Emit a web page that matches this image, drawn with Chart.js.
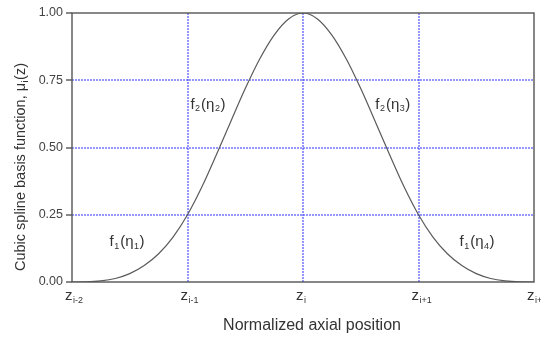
<!DOCTYPE html>
<html>
<head>
<meta charset="utf-8">
<script src="https://cdn.jsdelivr.net/npm/chart.js@4/dist/chart.umd.min.js"></script>
<style>
  html, body { margin: 0; padding: 0; background: #fff; }
  #wrap { width: 541px; height: 338px; }
</style>
</head>
<body>
<div id="wrap"><canvas id="splineChart"></canvas></div>
<script>
// positions along the axis, knot spacing = 1
const positions = [-2, -1.875, -1.75, -1.625, -1.5, -1.375, -1.25, -1.125, -1,
  -0.875, -0.75, -0.625, -0.5, -0.375, -0.25, -0.125, 0,
  0.125, 0.25, 0.375, 0.5, 0.625, 0.75, 0.875, 1,
  1.125, 1.25, 1.375, 1.5, 1.625, 1.75, 1.875, 2];
const basisValues = [0, 0.0005, 0.004, 0.013, 0.031, 0.061, 0.105, 0.167, 0.25,
  0.354, 0.473, 0.597, 0.719, 0.829, 0.918, 0.978, 1,
  0.978, 0.918, 0.829, 0.719, 0.597, 0.473, 0.354, 0.25,
  0.167, 0.105, 0.061, 0.031, 0.013, 0.004, 0.0005, 0];

// knot tick labels: base + subscript
const knotValues = [-2, -1, 0, 1, 2];
const knotSubs = ["i-2", "i-1", "i", "i+1", "i+2"];

// piece labels f_a(eta_b) placed in data units
const pieceNames = [["1", "1"], ["2", "2"], ["2", "3"], ["1", "4"]];
const pieceX = [-1.51, -0.81, 0.79, 1.52];
const pieceY = [0.15, 0.66, 0.66, 0.15];

const yTicks = [0, 0.25, 0.5, 0.75, 1];

const textColor = "#333";
const fontFam = "'Liberation Sans', Arial, sans-serif";

// draws base text followed by a lowered smaller subscript, returns x after
function subText(ctx, base, sub, x, y, size) {
  ctx.font = size + "px " + fontFam;
  ctx.fillText(base, x, y);
  let w = ctx.measureText(base).width;
  ctx.font = Math.round(size * 0.6) + "px " + fontFam;
  ctx.fillText(sub, x + w + 0.5, y + size * 0.3);
  return x + w + 0.5 + ctx.measureText(sub).width;
}

const textPlugin = {
  id: "spline_text",
  afterDraw: (chart) => {
    const { ctx, chartArea } = chart;
    const xs = chart.scales.x;
    const ys = chart.scales.y;
    ctx.save();
    // frame round the plot
    ctx.strokeStyle = "#555";
    ctx.lineWidth = 1.4;
    ctx.strokeRect(chartArea.left, chartArea.top, chartArea.right - chartArea.left, chartArea.bottom - chartArea.top);

    ctx.fillStyle = textColor;
    ctx.textBaseline = "middle";
    ctx.textAlign = "left";

    // x knot labels
    knotValues.forEach((v, i) => {
      const px = xs.getPixelForValue(v);
      subText(ctx, "z", knotSubs[i], px - 7, chartArea.bottom + 14, 15);
    });

    // piece labels
    pieceNames.forEach((n, i) => {
      const px = xs.getPixelForValue(pieceX[i]);
      const py = ys.getPixelForValue(pieceY[i]);
      let x = px - 19;
      x = subText(ctx, "f", n[0], x, py, 15);
      ctx.font = "15px " + fontFam;
      ctx.fillText("(", x + 1, py);
      x += 1 + ctx.measureText("(").width;
      x = subText(ctx, "\u03b7", n[1], x, py, 15);
      ctx.font = "15px " + fontFam;
      ctx.fillText(")", x + 0.5, py);
    });

    // x title
    ctx.font = "16px " + fontFam;
    ctx.textAlign = "center";
    ctx.fillText("Normalized axial position", 312, 326);

    // y title, rotated
    ctx.translate(21, 167);
    ctx.rotate(-Math.PI / 2);
    ctx.textAlign = "left";
    const t1 = "Cubic spline basis function, \u03bc";
    ctx.font = "14.5px " + fontFam;
    const w1 = ctx.measureText(t1).width;
    ctx.font = "9px " + fontFam;
    const ws = ctx.measureText("i").width;
    ctx.font = "14.5px " + fontFam;
    const w2 = ctx.measureText("(z)").width;
    let sx = -(w1 + ws + 1 + w2) / 2;
    ctx.fillText(t1, sx, 0);
    ctx.font = "9px " + fontFam;
    ctx.fillText("i", sx + w1 + 0.5, 5);
    ctx.font = "14.5px " + fontFam;
    ctx.fillText("(z)", sx + w1 + ws + 1, 0);
    ctx.restore();
  },
};

// inner grid lines only, the frame covers the edges
const gridColor = (ctx) => {
  const s = ctx.scale;
  const v = ctx.tick ? ctx.tick.value : s.min;
  return v === s.min || v === s.max ? "rgba(0,0,0,0)" : "rgba(80,80,255,0.6)";
};

const config = {
  type: "line",
  data: {
    datasets: [
      {
        label: "basis",
        data: positions.map((p, i) => ({ x: p, y: basisValues[i] })),
        borderColor: "#5a5a5a",
        borderWidth: 1.2,
        pointRadius: 0,
        cubicInterpolationMode: "monotone",
        fill: false,
      },
    ],
  },
  plugins: [textPlugin],
  options: {
    responsive: false,
    animation: false,
    layout: { padding: { left: 0, right: 7, top: 13, bottom: 0 } },
    plugins: {
      legend: { display: false },
      tooltip: { enabled: false },
    },
    scales: {
      x: {
        type: "linear",
        min: -2,
        max: 2,
        afterFit: (s) => { s.height = 56; },
        afterBuildTicks: (s) => { s.ticks = knotValues.map((v) => ({ value: v })); },
        ticks: { display: false },
        grid: { color: gridColor, lineWidth: 2, drawTicks: false },
        border: { display: false, dash: [2, 1] },
      },
      y: {
        min: 0,
        max: 1,
        afterFit: (s) => { s.width = 72; },
        afterBuildTicks: (s) => { s.ticks = yTicks.map((v) => ({ value: v })); },
        ticks: {
          color: "#444",
          font: { size: 12.5, family: fontFam },
          padding: 3,
          callback: (v) => v.toFixed(2),
        },
        grid: { color: gridColor, lineWidth: 2, drawTicks: true, tickLength: 6, tickColor: "#555", tickWidth: 1.4 },
        border: { display: false, dash: [2, 1] },
      },
    },
  },
};

const c = document.getElementById("splineChart");
c.width = 541;
c.height = 338;
const splineChart = new Chart(c, config);
</script>
</body>
</html>
